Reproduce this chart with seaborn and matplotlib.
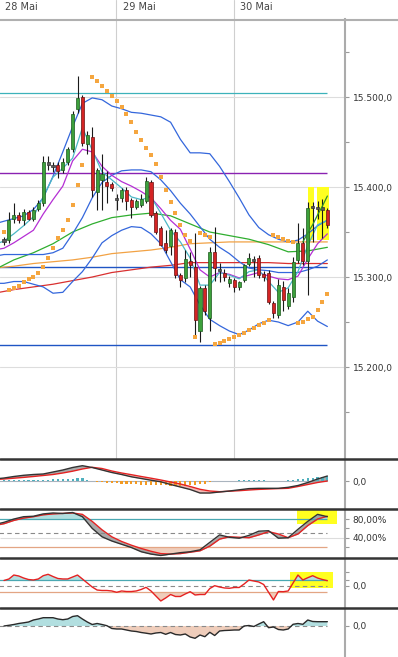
import numpy as np
import pandas as pd
import seaborn as sns
import matplotlib.pyplot as plt
from matplotlib.lines import Line2D
from matplotlib.patches import Rectangle
from matplotlib.transforms import blended_transform_factory
from matplotlib.ticker import FixedLocator, FuncFormatter

# ---- values (candle index on x) ----
dates = ["28 Mai", "29 Mai", "30 Mai"]
day_start = [-1, 23, 47]

opens = [15340, 15341, 15364, 15369, 15363, 15372, 15365, 15376, 15382, 15425,
         15424, 15425, 15419, 15428, 15442, 15487, 15500, 15448, 15456, 15395,
         15408, 15406, 15403, 15388, 15388, 15397, 15386, 15378, 15380, 15385,
         15406, 15371, 15354, 15338, 15335, 15350, 15302, 15299, 15318, 15311,
         15240, 15288, 15255, 15328, 15309, 15305, 15293, 15297, 15289, 15297,
         15315, 15320, 15321, 15303, 15305, 15271, 15258, 15289, 15268, 15278,
         15319, 15338, 15318, 15377, 15378, 15377, 15374]
highs = [15344, 15372, 15382, 15372, 15376, 15375, 15378, 15386, 15434, 15435,
         15428, 15428, 15432, 15444, 15484, 15523, 15502, 15462, 15467, 15421,
         15437, 15418, 15406, 15392, 15399, 15400, 15388, 15387, 15392, 15411,
         15408, 15373, 15357, 15352, 15354, 15353, 15304, 15330, 15328, 15349,
         15290, 15291, 15333, 15356, 15316, 15309, 15301, 15299, 15296, 15314,
         15327, 15323, 15324, 15307, 15308, 15273, 15298, 15296, 15288, 15322,
         15360, 15355, 15383, 15383, 15384, 15387, 15377]
lows = [15336, 15338, 15360, 15360, 15358, 15363, 15362, 15373, 15379, 15419,
        15417, 15410, 15416, 15425, 15439, 15482, 15446, 15437, 15389, 15374,
        15374, 15382, 15396, 15374, 15383, 15375, 15366, 15376, 15378, 15382,
        15367, 15348, 15334, 15327, 15325, 15299, 15289, 15295, 15300, 15236,
        15228, 15258, 15240, 15296, 15294, 15296, 15289, 15283, 15286, 15295,
        15312, 15300, 15299, 15296, 15270, 15255, 15254, 15262, 15265, 15272,
        15316, 15313, 15280, 15339, 15365, 15343, 15354]
closes = [15341, 15363, 15369, 15363, 15372, 15365, 15375, 15382, 15428, 15427,
          15422, 15418, 15428, 15442, 15481, 15499, 15449, 15458, 15397, 15419,
          15415, 15401, 15399, 15386, 15397, 15385, 15378, 15384, 15387, 15407,
          15369, 15350, 15336, 15330, 15352, 15302, 15297, 15320, 15313, 15252,
          15288, 15262, 15328, 15310, 15307, 15300, 15298, 15289, 15294, 15313,
          15321, 15318, 15302, 15300, 15272, 15260, 15291, 15274, 15282, 15317,
          15338, 15318, 15377, 15378, 15376, 15375, 15358]

# indicator samples, every 2nd candle
grid2 = list(range(-2, 67, 2))
bb_upper = [15359, 15362, 15365, 15368, 15375, 15388, 15412, 15439, 15467, 15493,
            15499, 15497, 15490, 15487, 15483, 15482, 15480, 15478, 15472, 15453,
            15438, 15438, 15437, 15423, 15406, 15388, 15369, 15355, 15347, 15342,
            15339, 15341, 15348, 15357, 15363]
bb_mid = [15323, 15325, 15325, 15325, 15325, 15325, 15327, 15332, 15348, 15366,
          15388, 15405, 15413, 15418, 15419, 15419, 15417, 15408, 15396, 15382,
          15370, 15356, 15342, 15333, 15326, 15317, 15310, 15308, 15307, 15305,
          15305, 15305, 15308, 15312, 15319]
bb_lower = [15293, 15293, 15295, 15295, 15292, 15289, 15282, 15283, 15295, 15306,
            15321, 15338, 15346, 15352, 15356, 15355, 15348, 15337, 15317, 15297,
            15289, 15269, 15253, 15246, 15240, 15236, 15241, 15248, 15252, 15250,
            15246, 15250, 15262, 15251, 15245]
ma_fast = [15336, 15340, 15348, 15357, 15367, 15389, 15411, 15421, 15432, 15466,
           15441, 15417, 15408, 15399, 15389, 15386, 15389, 15371, 15352, 15339,
           15321, 15291, 15291, 15305, 15302, 15298, 15306, 15308, 15295, 15283,
           15288, 15306, 15335, 15358, 15363]
ma_purple = [15330, 15332, 15338, 15345, 15352, 15370, 15386, 15401, 15429, 15442,
             15439, 15423, 15413, 15406, 15401, 15395, 15388, 15376, 15363, 15353,
             15331, 15308, 15300, 15305, 15303, 15299, 15302, 15305, 15301, 15298,
             15297, 15301, 15320, 15337, 15348]

# slower averages, every 4th candle
grid4 = list(range(-2, 67, 4))
ma_green = [15308, 15319, 15327, 15337, 15350, 15359, 15366, 15369, 15371, 15368,
            15359, 15350, 15346, 15342, 15336, 15328, 15329, 15333]
ma_orange = [15310, 15312, 15315, 15317, 15319, 15322, 15326, 15328, 15330, 15333,
             15337, 15338, 15339, 15339, 15339, 15339, 15339, 15339]
ma_red = [15282, 15286, 15289, 15292, 15296, 15300, 15305, 15308, 15311, 15313,
          15316, 15316, 15316, 15316, 15316, 15315, 15315, 15315]

trend_idx = [61, 62, 63, 64, 65, 66]
trend_val = [15339, 15349, 15358, 15369, 15379, 15390]

levels = {"cyan": 15504, "purple": 15416, "blue_hi": 15311, "blue_lo": 15224}

sar = [15350, 15286, 15288, 15290, 15295, 15298, 15300, 15305, 15311, 15321,
       15332, 15343, 15352, 15363, 15380, 15402, 15425, np.nan, 15522, 15518,
       15512, 15507, 15501, 15496, 15489, 15481, 15472, 15461, 15452, 15443,
       15436, 15426, 15411, 15397, 15383, 15371, 15358, 15347, 15340, 15233,
       15349, 15347, 15345, 15226, 15227, 15229, 15231, 15233, 15236, 15238,
       15241, 15243, 15247, 15249, 15252, 15347, 15345, 15342, 15340, 15339,
       15249, 15250, 15253, 15256, 15263, 15272, 15281]

macd = [2.0, 3.0, 4.5, 5.7, 6.5, 7.0, 9.0, 11.0, 13.5, 15.3,
        13.5, 11.0, 8.5, 6.5, 4.2, 2.5, 0.8, -0.8, -3.5, -6.0,
        -8.5, -12.0, -12.0, -11.0, -10.0, -8.8, -7.6, -7.3, -7.3, -7.3,
        -6.3, -4.5, -1.5, 2.0, 5.0]
signal = [1.5, 2.0, 2.8, 3.6, 4.5, 5.5, 6.5, 8.0, 9.8, 12.0,
          13.7, 12.5, 10.0, 8.0, 6.3, 4.5, 2.8, 1.0, -1.0, -3.0,
          -5.5, -8.3, -10.0, -10.7, -10.2, -9.7, -9.0, -8.4, -8.0, -7.6,
          -7.3, -5.5, -3.5, -1.5, 0.0]
hist = [0.8, 1.0, 1.0, 1.0, 1.0, 1.2, 1.2, 1.5, 1.5, 1.5,
        1.8, 2.0, 2.0, 2.2, 2.5, 3.0, 3.0, 1.5, 0.3, -0.6,
        -1.2, -1.5, -1.9, -2.2, -2.5, -2.8, -3.1, -3.1, -3.5, -3.8,
        -3.8, -4.0, -4.4, -4.4, -4.8, -5.0, -5.0, -4.8, -4.4, -3.8,
        -3.1, -2.5, -1.2, 0.0, 0.0, 0.0, 0.0, 0.0, 1.0, 1.5,
        1.5, 1.5, 1.5, 1.0, 0.0, 0.0, 0.0, 0.0, 1.0, 1.5,
        2.0, 2.5, 3.0, 3.5, 4.0, 4.5, 5.0]

stoch_k = [68, 73, 80, 85, 86, 91, 93, 92, 94, 85, 60, 42, 33, 26, 19, 10, 5, 2,
           5, 8, 10, 14, 30, 46, 41, 39, 45, 54, 55, 39, 40, 58, 75, 90, 85]
stoch_d = [66, 70, 77, 82, 85, 89, 91, 92, 93, 90, 75, 57, 42, 32, 24, 17, 11, 6,
           5, 6, 9, 12, 22, 37, 42, 41, 40, 46, 53, 48, 40, 48, 66, 80, 86]

cci = [92, 117, 183, 167, 133, 108, 100, 117, 172, 195,
       158, 125, 117, 117, 150, 183, 117, 50, -17, -67,
       -75, -75, -83, -105, -83, -92, -92, -83, -58, -22,
       -83, -167, -250, -200, -142, -175, -175, -133, -95, -150,
       -142, -142, -42, 5, -17, -33, -38, -25, -25, 33,
       100, 83, 67, 25, -105, -233, -92, -95, -83, 50,
       183, 100, 138, 172, 133, 108, 88]

mom = [0.0, 0.7, 1.5, 2.5, 3.2, 4.0, 6.0, 7.0, 8.3, 8.3,
       8.3, 7.0, 6.3, 7.0, 9.5, 10.3, 7.0, 4.0, 1.5, 2.5,
       1.5, 0.3, -2.5, -3.0, -3.0, -4.0, -5.0, -5.5, -6.5, -7.2,
       -8.0, -7.0, -6.5, -8.3, -6.5, -8.5, -9.0, -8.0, -11.0, -12.3,
       -9.0, -10.7, -6.3, -9.5, -5.0, -4.5, -4.3, -4.0, -4.0, 0.0,
       0.5, -0.5, 2.0, 4.3, -1.7, -1.0, -3.5, -4.0, -3.0, 1.7,
       2.5, 1.7, 6.0, 4.5, 4.3, 4.3, 4.3]

# highlighted areas: (first idx, last idx, low, high)
hl_main = [(62.0, 63.3, 15341, 15400), (63.9, 66.4, 15341, 15400)]
hl_stoch = (59.8, 68.0, 70, 102)
hl_cci = (58.4, 67.1, -38, 228)

# ---- drawing ----
sns.set_theme(style="white")
plt.rcParams["font.family"] = ["DejaVu Sans"]

W, H = 398, 657
AX_R = 345
fig = plt.figure(figsize=(W / 100, H / 100), dpi=100)
fig.patch.set_facecolor("white")

TEAL_FILL = "#b2dfe0"
SALMON_FILL = "#efcdbb"
TEAL_LINE = "#4aa8b2"
SALMON_LINE = "#e3a584"


def de_num(v, nd=1):
    s = f"{v:,.{nd}f}"
    return s.replace(",", "#").replace(".", ",").replace("#", ".")


def panel(top, bottom):
    ax = fig.add_axes([0, 1 - bottom / H, AX_R / W, (bottom - top) / H])
    ax.set_facecolor("white")
    for side in ("left", "top", "bottom"):
        ax.spines[side].set_visible(False)
    ax.spines["right"].set_color("#ababab")
    ax.spines["right"].set_linewidth(1.5)
    ax.yaxis.tick_right()
    ax.tick_params(axis="y", which="both", direction="out", length=3, width=0.8,
                   color="#9a9a9a", labelcolor="#333333", labelsize=6.5, pad=2.5)
    ax.tick_params(axis="x", which="both", bottom=False, labelbottom=False)
    return ax


def line(ax, x, y, color, lw=0.9, z=4):
    sns.lineplot(x=x, y=y, ax=ax, color=color, linewidth=lw,
                 estimator=None, legend=False, zorder=z)


def finish(ax, ylim):
    ax.set_xlim(-0.82, 69.6)
    ax.set_ylim(*ylim)
    ax.set_xlabel("")
    ax.set_ylabel("")


# main price panel
ax = panel(19, 459)
for lo_i, hi_i, lo_p, hi_p in hl_main:
    ax.add_patch(Rectangle((lo_i, lo_p), hi_i - lo_i, hi_p - lo_p,
                           facecolor="#ffff20", edgecolor="none", zorder=1))
ax.yaxis.set_major_locator(FixedLocator([15200, 15300, 15400, 15500]))
ax.yaxis.set_minor_locator(FixedLocator([15150, 15250, 15350, 15450, 15550]))
ax.yaxis.set_major_formatter(FuncFormatter(lambda v, p: de_num(v)))
ax.yaxis.grid(True, which="major", color="#dddddd", linewidth=0.8, zorder=0)
ax.set_axisbelow(True)

trans = blended_transform_factory(ax.transData, ax.transAxes)
for d, lab in zip(day_start, dates):
    ax.axvline(d - 0.05, ymin=0, ymax=1 + 19 / 440, color="#cfcfcf", lw=0.8,
               clip_on=False, zorder=0)
    ax.text(d + 1.25, 1 + 12 / 440, lab, transform=trans, fontsize=7,
            color="#444444", va="center", ha="left", clip_on=False)

ax.hlines(levels["cyan"], -1, 66, color="#3cb2ba", lw=0.9, zorder=2)
ax.hlines(levels["purple"], -1, 66, color="#8a22b2", lw=1.0, zorder=2)
ax.hlines([levels["blue_hi"], levels["blue_lo"]], -1, 66, color="#1f55c4", lw=1.0, zorder=2)

line(ax, grid4, ma_red, "#d93030")
line(ax, grid4, ma_orange, "#f2a244")
line(ax, grid4, ma_green, "#2fae2f")
line(ax, grid2, bb_upper, "#3467dc")
line(ax, grid2, bb_mid, "#3467dc")
line(ax, grid2, bb_lower, "#3467dc")
line(ax, grid2, ma_purple, "#b52fd4")
line(ax, grid2, ma_fast, "#4cb8c6")

c = pd.DataFrame({"o": opens, "h": highs, "l": lows, "c": closes})
c["i"] = np.arange(len(c))
flat = (c.c - c.o).abs() <= 2
up = (c.c > c.o) & ~flat
dn = (c.c < c.o) & ~flat
ax.vlines(c.i, c.l, c.h, color="#1a1a1a", lw=0.8, zorder=5)
for mask, fc, ec in [(up, "#3ca03c", "#1d5a1d"), (dn, "#d42424", "#6a1010"),
                     (flat, "#5a5a5a", "#333333")]:
    sub = c[mask]
    height = (sub.c - sub.o).abs().clip(lower=2.6)
    bottom = (sub.o + sub.c) / 2 - height / 2
    ax.bar(sub.i, height, bottom=bottom, width=0.62, color=fc, edgecolor=ec,
           linewidth=0.5, zorder=6)

line(ax, trend_idx, trend_val, "#2d8f2d", lw=0.9, z=7)
sar_df = pd.DataFrame({"i": np.arange(len(sar)), "v": sar}).dropna()
sns.scatterplot(data=sar_df, x="i", y="v", ax=ax, color="#f5a63f", s=6,
                marker="s", linewidth=0, zorder=7, legend=False)
finish(ax, (15097.8, 15586.7))

# MACD panel
ax2 = panel(459, 509)
ax2.hlines(0, -1, 66, color="#aab4be", lw=0.8, zorder=1)
m = np.array(macd)
s = np.array(signal)
ax2.fill_between(grid2, m, s, where=m >= s, interpolate=True, color="#9c9c9c",
                 alpha=0.85, lw=0, zorder=2)
ax2.fill_between(grid2, m, s, where=m < s, interpolate=True, color="#f0b3ad",
                 alpha=0.9, lw=0, zorder=2)
h = np.array(hist)
idx = np.arange(len(h))
ax2.bar(idx[h > 0], h[h > 0], width=0.45, color="#4fb0be", lw=0, zorder=3)
ax2.bar(idx[h < 0], h[h < 0], width=0.45, color="#f39a22", lw=0, zorder=3)
line(ax2, grid2, signal, "#e52222", lw=1.0)
line(ax2, grid2, macd, "#333333", lw=1.0, z=5)
ax2.yaxis.set_major_locator(FixedLocator([0]))
ax2.yaxis.set_major_formatter(FuncFormatter(lambda v, p: de_num(v)))
finish(ax2, (-28, 22))

# stochastic panel
ax3 = panel(509, 558)
lo_i, hi_i, lo_v, hi_v = hl_stoch
ax3.add_patch(Rectangle((lo_i, lo_v), hi_i - lo_i, hi_v - lo_v,
                        facecolor="#ffff20", edgecolor="none", zorder=0))
ax3.hlines(40, -0.82, 69.6, color="#dddddd", lw=0.8, zorder=0)
k = np.array(stoch_k)
d = np.array(stoch_d)
ax3.fill_between(grid2, k, 80, where=k > 80, interpolate=True, color=TEAL_FILL, lw=0, zorder=1)
ax3.fill_between(grid2, k, 20, where=k < 20, interpolate=True, color=SALMON_FILL, lw=0, zorder=1)
ax3.fill_between(grid2, k, d, color="#9a9a9a", alpha=0.85, lw=0, zorder=2)
ax3.hlines(80, -1, 66, color=TEAL_LINE, lw=0.9, zorder=2)
ax3.hlines(20, -1, 66, color=SALMON_LINE, lw=0.9, zorder=2)
ax3.hlines(50, -1, 66, color="#8a8a8a", lw=0.8, linestyles=(0, (4, 3)), zorder=2)
line(ax3, grid2, stoch_d, "#e52222", lw=1.0)
line(ax3, grid2, stoch_k, "#333333", lw=1.0, z=5)
ax3.yaxis.set_major_locator(FixedLocator([40, 80]))
ax3.yaxis.set_minor_locator(FixedLocator([20, 60]))
ax3.yaxis.set_major_formatter(FuncFormatter(lambda v, p: de_num(v, 2) + "%"))
finish(ax3, (-3.4, 101.5))

# CCI-style panel
ax4 = panel(558, 608)
lo_i, hi_i, lo_v, hi_v = hl_cci
ax4.add_patch(Rectangle((lo_i, lo_v), hi_i - lo_i, hi_v - lo_v,
                        facecolor="#ffff20", edgecolor="none", zorder=0))
cc = np.array(cci, dtype=float)
ci = np.arange(len(cc))
ax4.fill_between(ci, cc, 100, where=cc > 100, interpolate=True, color=TEAL_FILL, lw=0, zorder=1)
ax4.fill_between(ci, cc, -100, where=cc < -100, interpolate=True, color=SALMON_FILL, lw=0, zorder=1)
ax4.hlines(100, -1, 66, color=TEAL_LINE, lw=0.9, zorder=2)
ax4.hlines(-100, -1, 66, color=SALMON_LINE, lw=0.9, zorder=2)
ax4.hlines(0, -1, 66, color="#8a8a8a", lw=0.8, linestyles=(0, (4, 3)), zorder=2)
line(ax4, ci, cci, "#e52222", lw=1.0)
ax4.yaxis.set_major_locator(FixedLocator([0]))
ax4.yaxis.set_minor_locator(FixedLocator([100, 230]))
ax4.yaxis.set_major_formatter(FuncFormatter(lambda v, p: de_num(v)))
finish(ax4, (-367, 467))

# momentum panel
ax5 = panel(608, 657)
mm = np.array(mom)
mi = np.arange(len(mm))
ax5.fill_between(mi, mm, 0, where=mm > 0, interpolate=True, color=TEAL_FILL, lw=0, zorder=1)
ax5.fill_between(mi, mm, 0, where=mm < 0, interpolate=True, color=SALMON_FILL, lw=0, zorder=1)
ax5.hlines(0, -1, 66, color="#8a8a8a", lw=0.8, linestyles=(0, (4, 3)), zorder=2)
line(ax5, mi, mom, "#2a2a2a", lw=1.0)
ax5.yaxis.set_major_locator(FixedLocator([0]))
ax5.yaxis.set_major_formatter(FuncFormatter(lambda v, p: de_num(v)))
finish(ax5, (-31, 18))

# frame lines
fig.add_artist(Line2D([0, 1], [1 - 19.5 / H] * 2, transform=fig.transFigure,
                      color="#b0b0b0", lw=1.5))
for ypx in (459, 509, 558, 608):
    fig.add_artist(Line2D([0, 1], [1 - ypx / H] * 2, transform=fig.transFigure,
                          color="#343434", lw=1.8))

fig.savefig("out.png", dpi=100)
